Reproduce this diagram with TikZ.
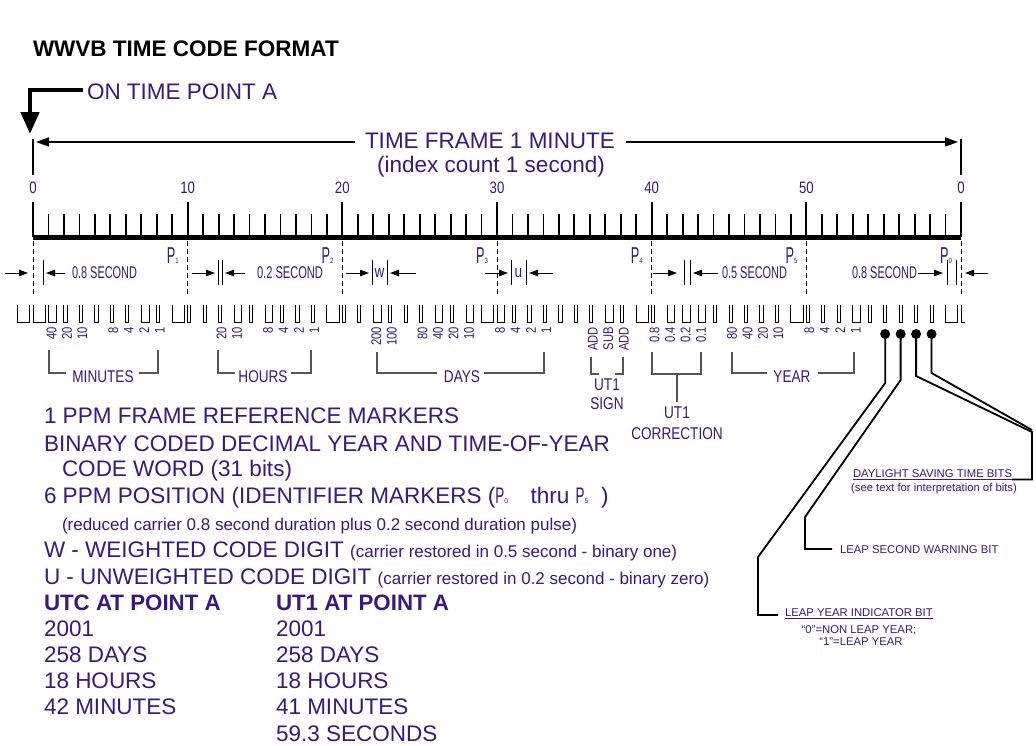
\documentclass[tikz,border=0pt]{standalone}
\usepackage{fontspec}
\usepackage{graphicx}
\setmainfont{Liberation Sans}
\newfontfamily\nar[FakeStretch=0.8]{Liberation Sans}
\usetikzlibrary{arrows.meta,calc}
\definecolor{pur}{RGB}{58,24,124}
\definecolor{brk}{RGB}{85,85,85}
\newcommand\fsz[1]{\fontsize{#1}{#1}\selectfont}
\newcommand\sq[2]{\resizebox{#1pt}{\height}{#2}}
\tikzset{
  txt/.style={inner sep=0pt,outer sep=0pt,text=pur},
  big/.style={txt,font=\fsz{22.5},anchor=base west},
  sml/.style={txt,font=\fsz{11.3}},
  cond/.style={txt,font=\nar\fsz{17}},
  rot/.style={txt,font=\nar\fsz{14},rotate=90,anchor=east},
  pulse/.style={line width=0.9pt},
  brack/.style={draw=brk,line width=1.1pt},
  lead/.style={line width=1.8pt,line join=miter},
  darr/.style={line width=1pt,-{Triangle[length=9pt,width=6.5pt]}},
  farr/.style={line width=1.5pt,-{Triangle[length=13pt,width=9pt]}},
  bar/.style={line width=1pt},
  dot/.style={circle,fill=black,inner sep=0pt,minimum size=10pt},
}
\begin{document}
\begin{tikzpicture}[x=1pt,y=-1pt]
\useasboundingbox (0,0) rectangle (1036,745);
\fill[white] (0,0) rectangle (1036,745);

% title
\node[txt,text=black,font=\fsz{22.5}\bfseries,anchor=base west] (title) at (33,56) {WWVB TIME CODE FORMAT};

% on time point
\node[big] (otp) at (87,99) {ON TIME POINT A};
\coordinate (A) at (30,134);
\draw[line width=4.5pt,-{Triangle[length=22pt,width=18pt]}] (83,90) -- (30,90) -- (A);

% time frame
\node[txt,font=\fsz{22.5},anchor=base] (tf) at (490,148) {TIME FRAME 1 MINUTE};
\node[txt,font=\fsz{22.5},anchor=base] (ic) at (491,172) {(index count 1 second)};
\coordinate (L0) at (36,142);
\coordinate (R0) at (958,142);
\draw[farr] (355,142) -- (L0);
\draw[farr] (626,142) -- (R0);
\draw[line width=1.8pt] (33,139) -- (33,175);
\draw[line width=1.8pt] (961,139) -- (961,175);

% scale
\draw[line width=5pt] (33,237) -- (961,237);
\foreach \k in {0,...,6}
  \draw[line width=2.2pt] ({33+\k*154.667},202) -- ({33+\k*154.667},237);
\foreach \k in {0,...,5}
  \foreach \j in {1,...,9}
    \draw[line width=1.8pt] ({33+(10*\k+\j)*15.4667},214) -- ++(0,23);
\foreach \k/\t in {0/0,1/10,2/20,3/30,4/40,5/50,6/0}
  \node[txt,font=\nar\fsz{16.5},anchor=base] (n\k) at ({33+\k*154.667},193) {\t};
\foreach \k in {0,...,6}
  \draw[line width=0.8pt,dash pattern=on 5pt off 3pt] ({33+\k*154.667},241) -- ++(0,55);
\foreach \k/\i in {1/1,2/2,3/3,4/4,5/5,6/0}
  \node[txt,font=\nar\fsz{23},anchor=base east] (p\k) at ({33+\k*154.667-9},263) {\sq{8.5}{P}{\fsz{7.5}\i}};

% duration row
\draw[darr] (5,273) -- (28,273);
\draw[bar] (43,260) -- (43,285);
\draw[darr] (65,273) -- (46,273);
\node[cond,anchor=west] (d1) at (72,273) {\sq{65}{0.8 SECOND}};
\draw[darr] (192,273) -- (215,273);
\draw[bar] (218,260) -- (218,285);
\draw[bar] (222,260) -- (222,285);
\draw[darr] (245,273) -- (225,273);
\node[cond,anchor=west] (d2) at (257,273) {\sq{66}{0.2 SECOND}};
\draw[darr] (346,273) -- (369,273);
\draw[bar] (372,260) -- (372,285);
\node[cond] (w) at (379.5,273) {w};
\draw[bar] (387,260) -- (387,285);
\draw[darr] (416,273) -- (390,273);
\draw[darr] (485,273) -- (508,273);
\draw[bar] (511,260) -- (511,285);
\node[cond] (u) at (518.5,273) {u};
\draw[bar] (526,260) -- (526,285);
\draw[darr] (553,273) -- (529,273);
\draw[darr] (653,273) -- (677,273);
\draw[bar] (684,260) -- (684,285);
\draw[bar] (690,260) -- (690,285);
\draw[darr] (718,273) -- (693,273);
\node[cond,anchor=west] (d3) at (722,273) {\sq{65}{0.5 SECOND}};
\node[cond,anchor=west] (d4) at (852,273) {\sq{65}{0.8 SECOND}};
\draw[darr] (918,273) -- (943,273);
\draw[bar] (947,260) -- (947,285);
\draw[bar] (956,260) -- (956,285);
\draw[darr] (988,273) -- (965,273);

% pulse train
\foreach \q/\pw in {-1/.8,0/.8,1/.5,2/.2,3/.2,4/.2,5/.2,6/.2,7/.5,8/.2,9/.8,
  10/.2,11/.2,12/.2,13/.5,14/.2,15/.5,16/.2,17/.2,18/.2,19/.8,
  20/.2,21/.2,22/.5,23/.2,24/.2,25/.2,26/.5,27/.2,28/.5,29/.8,
  30/.5,31/.2,32/.2,33/.2,34/.2,35/.2,36/.2,37/.5,38/.2,39/.8,
  40/.2,41/.5,42/.5,43/.5,44/.2,45/.2,46/.2,47/.2,48/.2,49/.8,
  50/.2,51/.2,52/.2,53/.5,54/.2,55/.2,56/.2,57/.2,58/.2,59/.8}
  \draw[pulse] ({33+\q*15.4667},305) -- ++(0,17) -- ++({\pw*15.4667},0) -- ++(0,-17);
\draw[pulse] (961,305) -- (961,322) -- (965,322);

% bit labels
\foreach \q/\t in {1/40,2/20,3/10,5/8,6/4,7/2,8/1,
  12/20,13/10,15/8,16/4,17/2,18/1,
  22/200,23/100,25/80,26/40,27/20,28/10,30/8,31/4,32/2,33/1,
  36/ADD,37/SUB,38/ADD,
  40/0.8,41/0.4,42/0.2,43/0.1,
  45/80,46/40,47/20,48/10,50/8,51/4,52/2,53/1}
  \node[rot] (b\q) at ({33+\q*15.4667+3},327) {\t};

% brackets
\node[cond] (mins) at (103,376.5) {MINUTES};
\draw[brack] (49,350) -- (49,373) -- (66,373);
\draw[brack] (139,373) -- (158,373) -- (158,350);
\node[cond] (hrs) at (263,376.5) {HOURS};
\draw[brack] (218,350) -- (218,373) -- (235,373);
\draw[brack] (291,373) -- (311,373) -- (311,350);
\node[cond] (days) at (462,376.5) {DAYS};
\draw[brack] (377,352) -- (377,373) -- (437,373);
\draw[brack] (484,373) -- (544,373) -- (544,352);
\draw[brack] (591,357) -- (591,374) -- (599,374);
\draw[brack] (615,374) -- (623,374) -- (623,357);
\node[cond] (sg1) at (607,385) {UT1};
\node[cond] (sg2) at (607,404) {SIGN};
\draw[brack] (652,352) -- (652,374) -- (701,374) -- (701,352);
\draw[brack] (677,374) -- (677,402);
\node[cond] (cr1) at (677,413) {UT1};
\node[cond] (cr2) at (677,434) {CORRECTION};
\node[cond] (yr) at (792,376.5) {YEAR};
\draw[brack] (732,352) -- (732,373) -- (767,373);
\draw[brack] (818,373) -- (854,373) -- (854,352);

% special bits
\node[dot] (d55) at ({33+55*15.4667+1.5},334) {};
\node[dot] (d56) at ({33+56*15.4667+1.5},334) {};
\node[dot] (d57) at ({33+57*15.4667+1.5},334) {};
\node[dot] (d58) at ({33+58*15.4667+1.5},334) {};

\node[sml,anchor=base west] (dst) at (853,477) {DAYLIGHT SAVING TIME BITS};
\draw[pur,line width=0.9pt] ($(dst.base west)+(0,2.5)$) -- ($(dst.base east)+(0,2.5)$);
\node[sml,anchor=base] (dst2) at (934,491) {(see text for interpretation of bits)};
\node[sml,anchor=base west] (lsw) at (840,553) {LEAP SECOND WARNING BIT};
\node[sml,anchor=base west] (lyi) at (785,616) {LEAP YEAR INDICATOR BIT};
\draw[pur,line width=0.9pt] ($(lyi.base west)+(0,2.5)$) -- ($(lyi.base east)+(0,2.5)$);
\node[sml,anchor=base] (lyi2) at (859,633) {“0”=NON LEAP YEAR;};
\node[sml,anchor=base] (lyi3) at (861,645) {“1”=LEAP YEAR};

\draw[lead] (d55.center) -- ++(0,49) -- (758,557) -- (758,615) -- (778,615);
\draw[lead] (d56.center) -- ++(0,46) -- (805,517) -- (805,549) -- (832,549);
\draw[lead] (d57.center) -- ++(0,42) -- (1032,432) -- (1032,479.5) -- ($(dst.base east)+(0,2.5)$);
\draw[lead] (d58.center) -- ++(0,39) -- (1032,430);

% legend
\node[big] (l1) at (44,423) {1 PPM FRAME REFERENCE MARKERS};
\node[big] (l2) at (44,451) {BINARY CODED DECIMAL YEAR AND TIME-OF-YEAR};
\node[big] (l3) at (62,476) {CODE WORD (31 bits)};
\node[big] (l4) at (44,503) {6 PPM POSITION (IDENTIFIER MARKERS ({\nar\sq{9}{P}}{\fsz{7}0}\quad thru {\nar\sq{9}{P}}{\fsz{7}5}\ \ )};
\node[txt,font=\fsz{17},anchor=base west] (l5) at (62,530) {(reduced carrier 0.8 second duration plus 0.2 second duration pulse)};
\node[big] (l6) at (44,557) {W - WEIGHTED CODE DIGIT {\fsz{17}(carrier restored in 0.5 second - binary one)}};
\node[big] (l7) at (44,584) {U - UNWEIGHTED CODE DIGIT {\fsz{17}(carrier restored in 0.2 second - binary zero)}};

\node[big,font=\fsz{22.3}\bfseries] (utc) at (44,610) {UTC AT POINT A};
\node[big] (u1) at (44,636) {2001};
\node[big] (u2) at (44,662) {258 DAYS};
\node[big] (u3) at (44,688) {18 HOURS};
\node[big] (u4) at (44,714) {42 MINUTES};

\node[big,font=\fsz{22.3}\bfseries] (ut1) at (276,610) {UT1 AT POINT A};
\node[big] (v1) at (276,636) {2001};
\node[big] (v2) at (276,662) {258 DAYS};
\node[big] (v3) at (276,688) {18 HOURS};
\node[big] (v4) at (276,714) {41 MINUTES};
\node[big] (v5) at (276,741) {59.3 SECONDS};
\end{tikzpicture}
\end{document}
